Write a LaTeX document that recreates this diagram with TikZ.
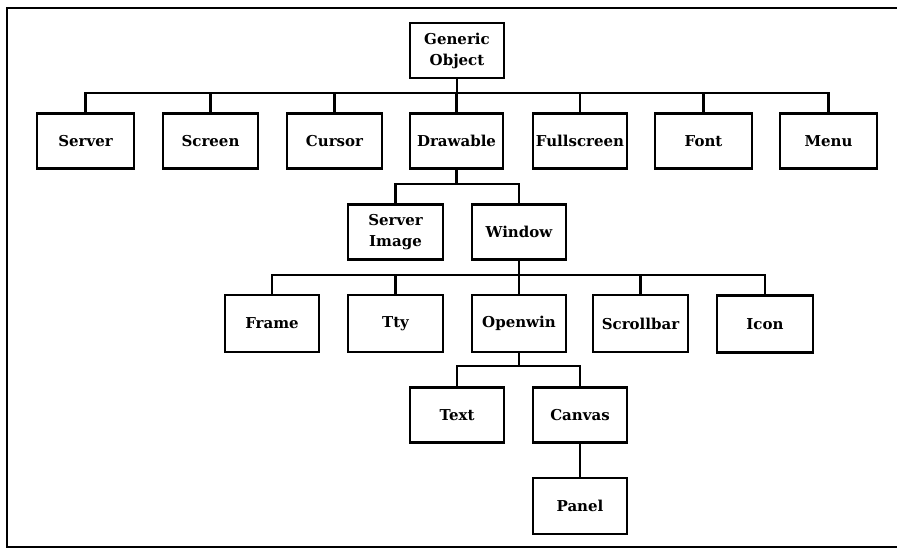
\documentclass[tikz,border=0pt]{standalone}
\usepackage{fontspec}
\setmainfont{DejaVu Serif}
\begin{document}
\begin{tikzpicture}[x=1pt,y=-1pt,
  cls/.style={draw, line width=2.5pt, minimum width=94pt, minimum height=55pt,
    inner sep=1pt, align=center, font=\fontsize{15}{21}\selectfont\bfseries},
  link/.style={line width=2.3pt}]
\useasboundingbox (0,0) rectangle (897,548);
% page frame
\draw[line width=1.8pt] (899,8) -- (7,8) -- (7,547) -- (899,547);

% classes
\node[cls] (gen) at (457,50.5) {Generic\\Object};
\node[cls, minimum width=97pt] (server) at (85.5,141) {Server};
\node[cls, minimum width=95pt] (screen) at (210.5,141) {Screen};
\node[cls, minimum width=95pt] (cursor) at (334.5,141) {Cursor};
\node[cls, minimum width=93pt] (drawable) at (456.5,141) {Drawable};
\node[cls] (fullscreen) at (580,141) {Fullscreen};
\node[cls, minimum width=97pt] (font) at (703.5,141) {Font};
\node[cls, minimum width=97pt] (menu) at (828.5,141) {Menu};

\node[cls, minimum width=95pt] (srvimg) at (395.5,232) {Server\\Image};
\node[cls] (window) at (519,232) {Window};

\node[cls, minimum height=57pt] (frame) at (272,323.5) {Frame};
\node[cls, minimum width=95pt, minimum height=57pt] (tty) at (395.5,323.5) {Tty};
\node[cls, minimum height=57pt] (openwin) at (519,323.5) {Openwin};
\node[cls, minimum width=95pt, minimum height=57pt] (scrollbar) at (640.5,323.5) {Scrollbar};
\node[cls, minimum width=96pt, minimum height=57pt] (icon) at (765,324) {Icon};

\node[cls] (text) at (457,415) {Text};
\node[cls] (canvas) at (580,415) {Canvas};
\node[cls, minimum height=56pt] (panel) at (580,506) {Panel};

% bus levels
\coordinate (bus1) at (0,93);
\coordinate (bus2) at (0,184);
\coordinate (bus3) at (0,275);
\coordinate (bus4) at (0,366);

% connectors
\foreach \c in {server,screen,cursor,drawable,fullscreen,font,menu}
  \draw[link] (gen.south) -- (gen.south |- bus1) -| (\c.north);
\foreach \c in {srvimg,window}
  \draw[link] (drawable.south) -- (drawable.south |- bus2) -| (\c.north);
\foreach \c in {frame,tty,openwin,scrollbar,icon}
  \draw[link] (window.south) -- (window.south |- bus3) -| (\c.north);
\foreach \c in {text,canvas}
  \draw[link] (openwin.south) -- (openwin.south |- bus4) -| (\c.north);
\draw[link] (canvas) -- (panel);
\end{tikzpicture}
\end{document}
